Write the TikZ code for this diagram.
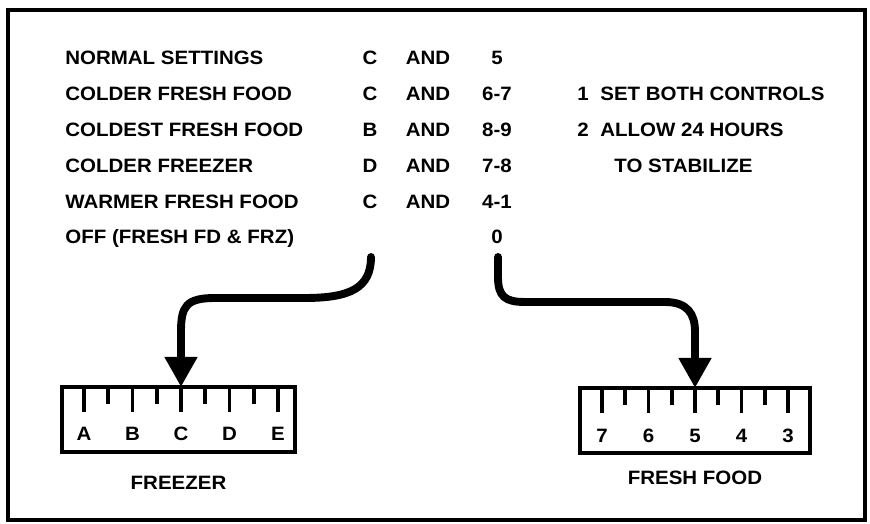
\documentclass[tikz,border=0pt]{standalone}
\usepackage{fontspec}
\setmainfont{Liberation Sans}[FakeStretch=1.06]
\usetikzlibrary{arrows.meta,positioning}

\tikzset{
  txt/.style={font=\bfseries\fontsize{11}{13}\selectfont, inner sep=0pt, text height=0.28cm, text depth=0pt},
  ruler/.style={draw, line width=2pt, minimum height=1.3cm, outer sep=0pt},
  tick/.style={line width=2pt},
  bigarrow/.style={line width=4.5pt, line cap=round, -{Triangle[width=0.62cm,length=0.6cm]}}
}

\begin{document}
\begin{tikzpicture}[every node/.style={txt}]

\useasboundingbox (0,0) rectangle (17.4,10.48);
\draw[line width=2pt] (0.16,0.08) rectangle (17.3,10.28);

% table of settings
\foreach \name/\frz/\ff [count=\i from 0] in {NORMAL SETTINGS/C/5,COLDER FRESH FOOD/C/6-7,COLDEST FRESH FOOD/B/8-9,COLDER FREEZER/D/7-8,WARMER FRESH FOOD/C/4-1}{
  \node[anchor=west] (set\i) at (1.3,9.32-0.716*\i) {\name};
  \node (frz\i) at (7.4,9.32-0.716*\i) {\frz};
  \node (and\i) at (8.56,9.32-0.716*\i) {AND};
  \node (ff\i) at (9.94,9.32-0.716*\i) {\ff};
}
\node[anchor=west] (set5) at (1.3,5.74) {OFF (FRESH FD \& FRZ)};
\node (ff5) at (9.94,5.74) {0};

% notes
\node[anchor=west] (num1) at (11.54,8.604) {1};
\node[anchor=west] (note1) at (12.0,8.604) {SET BOTH CONTROLS};
\node[anchor=west] (num2) at (11.54,7.888) {2};
\node[anchor=west] (note2) at (12.0,7.888) {ALLOW 24 HOURS};
\node[anchor=west] (note3) at (12.28,7.172) {TO STABILIZE};

% dials
\node[ruler, minimum width=4.66cm] (frz) at (3.57,2.09) {};
\node[ruler, minimum width=4.6cm] (ff) at (13.9,2.07) {};

\foreach \lab [count=\i from 0] in {A,B,C,D,E}{
  \coordinate (frz-\i) at ([xshift={0.44cm+0.97cm*\i}]frz.north west);
  \draw[tick] (frz-\i) -- ++(0,-0.5);
  \node (frzlab\i) at ([yshift=-0.94cm]frz-\i) {\lab};
}
\foreach \i in {0,...,3}
  \draw[tick] ([xshift={0.925cm+0.97cm*\i}]frz.north west) -- ++(0,-0.34);

\foreach \lab [count=\i from 0] in {7,6,5,4,3}{
  \coordinate (ff-\i) at ([xshift={0.44cm+0.93cm*\i}]ff.north west);
  \draw[tick] (ff-\i) -- ++(0,-0.5);
  \node (fflab\i) at ([yshift=-0.96cm]ff-\i) {\lab};
}
\foreach \i in {0,...,3}
  \draw[tick] ([xshift={0.905cm+0.93cm*\i}]ff.north west) -- ++(0,-0.34);

\node[below=0.46cm of frz] (frzname) {FREEZER};
\node[below=0.34cm of ff] (ffname) {FRESH FOOD};

% arrows
\coordinate (frzstart) at (7.42,5.34);
\coordinate (ffstart) at (9.96,5.34);
\draw[bigarrow] (frzstart) .. controls (7.42,4.72) and (7.0,4.52) .. (6.1,4.52)
  -- (4.3,4.52) .. controls (3.72,4.52) and (3.62,4.35) .. (3.62,3.85) -- (frz-2);
\draw[bigarrow] (ffstart) -- (9.96,4.94) .. controls (9.96,4.55) and (10.1,4.44) .. (10.5,4.44)
  -- (13.3,4.44) .. controls (13.75,4.44) and (13.9,4.2) .. (13.9,3.85) -- (ff-2);

\end{tikzpicture}
\end{document}
